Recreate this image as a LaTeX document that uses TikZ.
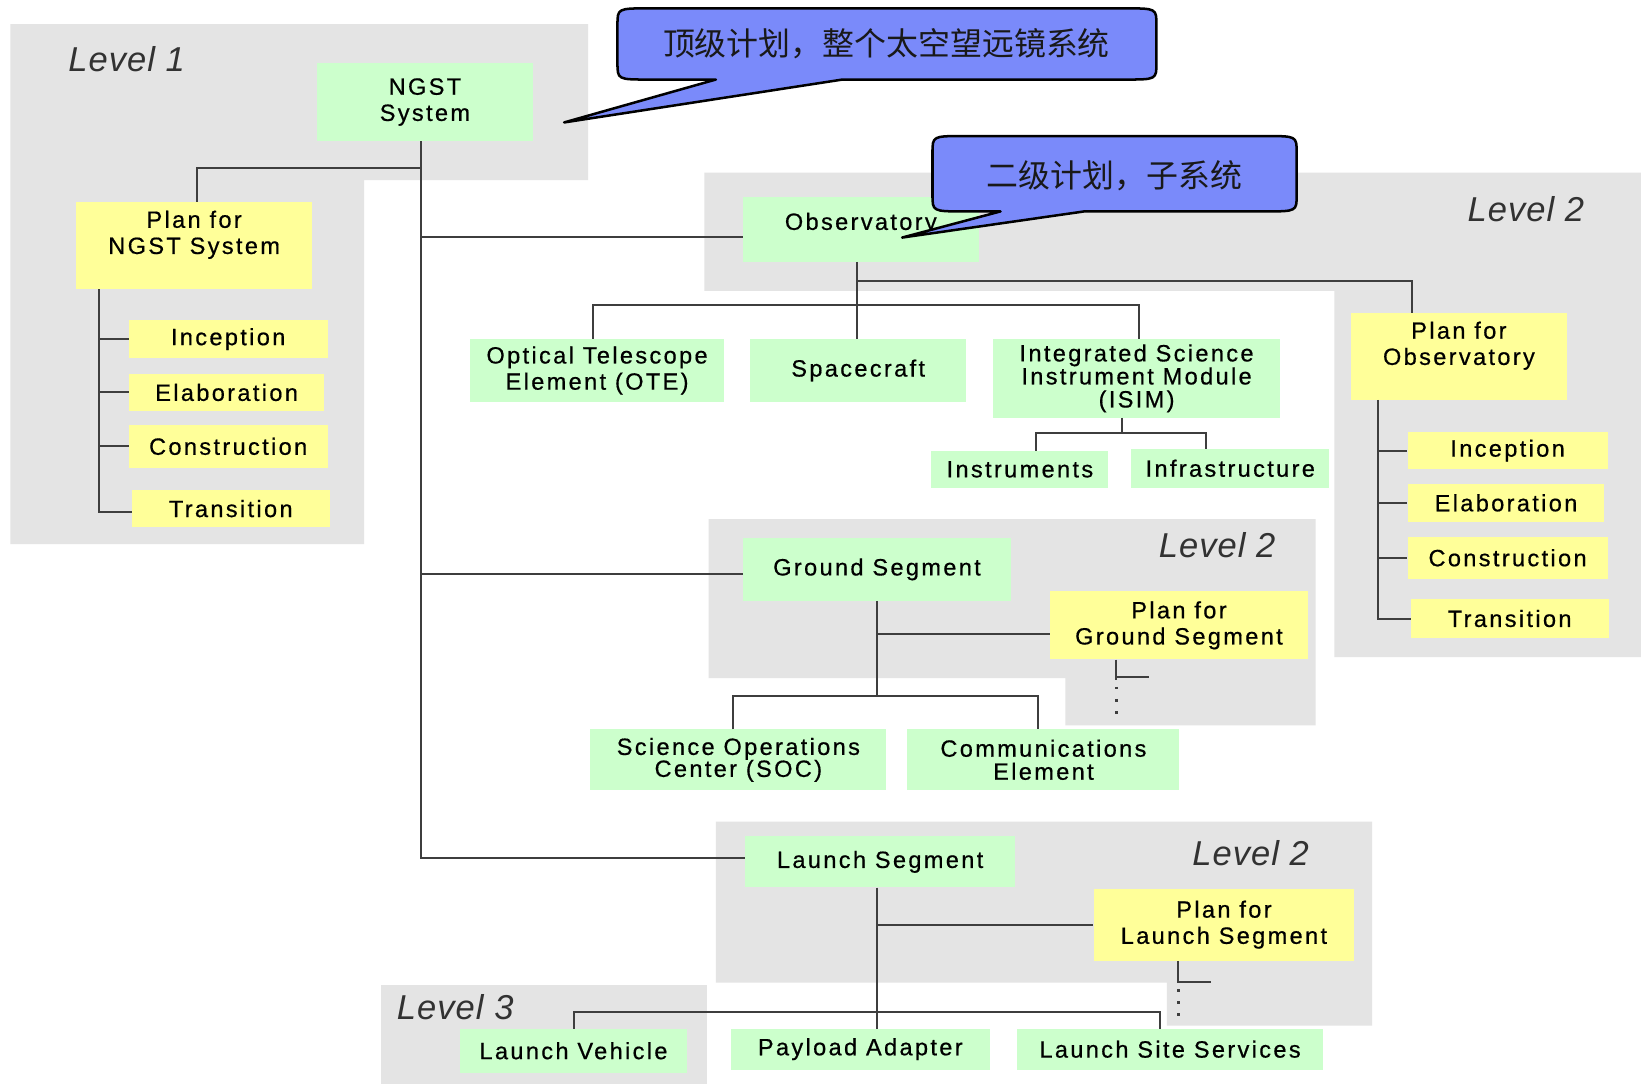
\documentclass[tikz,border=0pt]{standalone}
\usepackage{fontspec}
\setmainfont{Liberation Sans}
\newfontfamily\boxfont{Liberation Sans}[LetterSpace=10,FakeBold=0.6]
\newfontfamily\levelfont{Liberation Sans}[LetterSpace=3]
\newfontfamily\cjk{Noto Sans CJK SC}
\usetikzlibrary{calc}

\definecolor{panel}{RGB}{228,228,228}
\definecolor{leaf}{RGB}{204,255,204}
\definecolor{planfill}{RGB}{255,255,153}
\definecolor{wirecol}{RGB}{62,62,62}
\definecolor{bubble}{RGB}{122,138,250}
\definecolor{lvltext}{RGB}{50,50,50}

\tikzset{
  box/.style={inner sep=0pt, align=center, text=black,
    font=\boxfont\fontsize{22.5}{25}\selectfont},
  gbox/.style={box, fill=leaf},
  ybox/.style={box, fill=planfill},
  wire/.style={draw=wirecol, line width=1.9pt},
  dotwire/.style={draw=wirecol, line width=2.6pt, dash pattern=on 2.6pt off 9pt},
  lvl/.style={text=lvltext, font=\levelfont\itshape\fontsize{33}{33}\selectfont},
  callout/.style={draw=black, line width=2.4pt, fill=bubble, line join=round},
  calltext/.style={text=black!90, font=\cjk\fontsize{30.5}{31}\selectfont},
}

% box given by: style, name, text, left, right, top, bottom
\newcommand{\wbsbox}[7]{%
  \node[#1, minimum width={#5-#4}, minimum height={#7-#6}] (#2)
    at ({(#4+#5)/2},{(#6+#7)/2}) {#3};}

\begin{document}
\begin{tikzpicture}[x=1pt, y=-1pt]
\useasboundingbox (0,0) rectangle (1568,1036);
\fill[white] (0,0) rectangle (1568,1036);

% level panels
\fill[panel] (10,23) -- (562,23) -- (562,172) -- (348,172) -- (348,520) -- (10,520) -- cycle;
\fill[panel] (673,165) -- (1568,165) -- (1568,628) -- (1275,628) -- (1275,278) -- (673,278) -- cycle;
\fill[panel] (677,496) -- (1257,496) -- (1257,693) -- (1018,693) -- (1018,648) -- (677,648) -- cycle;
\fill[panel] (684,785) -- (1311,785) -- (1311,980) -- (1115,980) -- (1115,939) -- (684,939) -- cycle;
\fill[panel] (364,941) -- (676,941) -- (676,1036) -- (364,1036) -- cycle;

\node[lvl] (lvA) at (121,57) {Level 1};
\node[lvl] (lvB) at (1458,200) {Level 2};
\node[lvl] (lvC) at (1163,521) {Level 2};
\node[lvl] (lvD) at (1195,815) {Level 2};
\node[lvl] (lvE) at (435,962) {Level 3};

% level 1
\wbsbox{gbox}{ngst}{NGST\\System}{303}{509}{60}{135}
\wbsbox{ybox}{plan1}{Plan for\\NGST System\\ \mbox{}}{73}{298}{193}{276}
\wbsbox{ybox}{inc1}{Inception}{123}{313}{306}{342}
\wbsbox{ybox}{ela1}{Elaboration}{123}{310}{357}{393}
\wbsbox{ybox}{con1}{Construction}{123}{313}{406}{447}
\wbsbox{ybox}{tra1}{Transition}{126}{315}{468}{504}

% observatory
\wbsbox{gbox}{obs}{Observatory\\[-10pt]\mbox{}}{710}{935}{188}{250}
\wbsbox{gbox}{ote}{Optical Telescope\\Element (OTE)}{449}{692}{324}{384}
\wbsbox{gbox}{sc}{Spacecraft}{717}{923}{324}{384}
\wbsbox{gbox}{isim}{Integrated Science\\[-3pt]Instrument Module\\[-3pt](ISIM)}{949}{1223}{324}{399}
\wbsbox{gbox}{instr}{Instruments}{890}{1059}{431}{466}
\wbsbox{gbox}{infra}{Infrastructure}{1081}{1270}{429}{466}
\wbsbox{ybox}{plan2}{Plan for\\Observatory\\ \mbox{}}{1291}{1497}{299}{382}
\wbsbox{ybox}{inc2}{Inception}{1345}{1536}{413}{448}
\wbsbox{ybox}{ela2}{Elaboration}{1345}{1533}{462}{499}
\wbsbox{ybox}{con2}{Construction}{1345}{1536}{513}{553}
\wbsbox{ybox}{tra2}{Transition}{1348}{1537}{572}{610}

% ground segment
\wbsbox{gbox}{gnd}{Ground Segment}{710}{966}{514}{574}
\wbsbox{ybox}{plang}{Plan for\\Ground Segment}{1003}{1250}{565}{630}
\wbsbox{gbox}{soc}{Science Operations\\[-4pt]Center (SOC)}{564}{847}{697}{755}
\wbsbox{gbox}{comm}{Communications\\[-3pt]Element}{867}{1127}{697}{755}

% launch segment
\wbsbox{gbox}{lau}{Launch Segment}{712}{970}{799}{848}
\wbsbox{ybox}{planl}{Plan for\\Launch Segment}{1045}{1294}{849}{918}
\wbsbox{gbox}{lv}{Launch Vehicle}{440}{656}{983}{1025}
\wbsbox{gbox}{pa}{Payload Adapter}{698}{946}{983}{1022}
\wbsbox{gbox}{lss}{Launch Site Services}{972}{1264}{983}{1022}

% system trunk
\coordinate (trunk) at ($(ngst.south)+(-4,0)$);
\draw[wire] (trunk) -- ++(0,25) -| ($(plan1.north)+(3,0)$);
\draw[wire] (trunk) |- ($(obs.west)+(0,7)$);
\draw[wire] (trunk) |- ($(gnd.west)+(0,4)$);
\draw[wire] (trunk) |- ($(lau.west)+(0,-4)$);

% plan for NGST system phases
\coordinate (p1) at ($(plan1.south west)+(22,0)$);
\draw[wire] (p1) |- ($(tra1.west)+(0,3)$);
\foreach \n in {inc1,ela1,con1} \draw[wire] (p1 |- \n.west) -- (\n.west);

% observatory breakdown
\coordinate (os) at ($(obs.south)+(-4,0)$);
\draw[wire] (os) -- (os |- sc.north);
\draw[wire] ($(ote.north)+(-4,0)$) -- ++(0,-32) -| ($(isim.north)+(2,0)$);
\draw[wire] ($(os)+(0,18)$) -| ($(plan2.north west)+(58,0)$);
\coordinate (p2) at ($(plan2.south west)+(26,0)$);
\draw[wire] (p2) |- (tra2.west);
\foreach \n in {inc2,ela2,con2} \draw[wire] (p2 |- \n.west) -- (\n.west);
\draw[wire] ($(isim.south)+(-14,0)$) -- ++(0,15) coordinate (ib);
\draw[wire] ($(instr.north)+(15,0)$) |- (ib) -| ($(infra.north)+(-23,0)$);

% ground segment breakdown
\coordinate (gs) at (gnd.south);
\draw[wire] (gs) -- ++(0,91) coordinate (gb);
\draw[wire] ($(soc.north)+(-5,0)$) |- (gb) -| ($(comm.north)+(-5,0)$);
\draw[wire] ($(gs)+(0,32)$) coordinate (gp) -- (gp -| plang.west);
\coordinate (pg) at ($(plang.south west)+(64,0)$);
\draw[wire] (pg) -- ++(0,20) coordinate (pgt);
\draw[wire] ($(pg)+(0,17)$) -- ++(31,0);
\draw[dotwire] ($(pgt)+(0,6)$) -- ++(0,32);

% launch segment breakdown
\coordinate (ls) at ($(lau.south)+(-3,0)$);
\draw[wire] (ls) -- (ls |- pa.north);
\draw[wire] (ls |- planl.west) -- (planl.west);
\draw[wire] (lv.north) -- ++(0,-16) -| ($(lss.north)+(-10,0)$);
\coordinate (pl) at ($(planl.south west)+(81,0)$);
\draw[wire] (pl) -- ++(0,21) coordinate (plt);
\draw[wire] ($(pl)+(0,20)$) -- ++(31,0);
\draw[dotwire] ($(plt)+(0,6)$) -- ++(0,32);

% speech bubbles
\draw[callout] (590,24) .. controls (590,8) .. (620,8) -- (1075,8)
  .. controls (1105,8) .. (1105,24) -- (1105,60)
  .. controls (1105,76) .. (1075,76) -- (805,76) -- (539,117) -- (684,76)
  -- (620,76) .. controls (590,76) .. (590,60) -- cycle;
\node[calltext] (topnote) at (847,42) {顶级计划，整个太空望远镜系统};

\draw[callout] (891,146) .. controls (891,130) .. (921,130) -- (1209,130)
  .. controls (1239,130) .. (1239,146) -- (1239,186)
  .. controls (1239,202) .. (1209,202) -- (1036,202) -- (862,227) -- (956,202)
  -- (921,202) .. controls (891,202) .. (891,186) -- cycle;
\node[calltext] (subnote) at (1065,168) {二级计划，子系统};
\end{tikzpicture}
\end{document}
